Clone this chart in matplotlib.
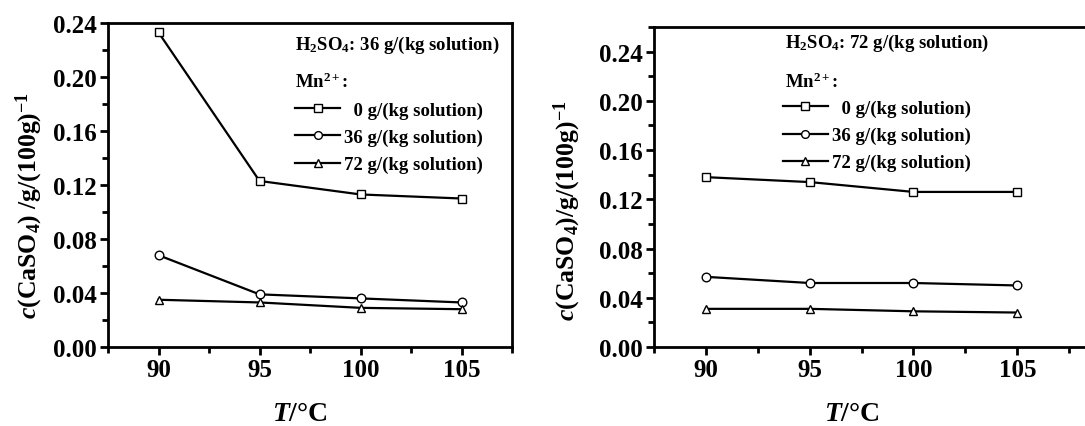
import matplotlib
matplotlib.use("Agg")
import matplotlib.pyplot as plt
from matplotlib.ticker import MultipleLocator, FormatStrFormatter

# ---- data ----
temps = [90, 95, 100, 105]
mn_labels = ["  0 g/(kg solution)", "36 g/(kg solution)", "72 g/(kg solution)"]
markers = ["s", "o", "^"]

# H2SO4 36 g/(kg solution)
left_mn0 = [0.233, 0.123, 0.113, 0.110]
left_mn36 = [0.068, 0.039, 0.036, 0.033]
left_mn72 = [0.035, 0.033, 0.029, 0.028]

# H2SO4 72 g/(kg solution)
right_mn0 = [0.138, 0.134, 0.126, 0.126]
right_mn36 = [0.057, 0.052, 0.052, 0.050]
right_mn72 = [0.031, 0.031, 0.029, 0.028]

xticks = [90, 95, 100, 105]
yticks = [0.00, 0.04, 0.08, 0.12, 0.16, 0.20, 0.24]

plt.rcParams["font.family"] = ["Liberation Serif", "DejaVu Serif"]
plt.rcParams["font.weight"] = "bold"
plt.rcParams["mathtext.fontset"] = "custom"
plt.rcParams["mathtext.rm"] = "Liberation Serif:bold"
plt.rcParams["mathtext.it"] = "Liberation Serif:italic:bold"
plt.rcParams["mathtext.bf"] = "Liberation Serif:bold"

W, H = 1085, 427
fig = plt.figure(figsize=(W / 100, H / 100), dpi=100)


def px_axes(x0, x1, y0, y1):
    return fig.add_axes([x0 / W, 1 - y1 / H, (x1 - x0) / W, (y1 - y0) / H])


def style(ax, ylim, xlim):
    ax.set_xlim(*xlim)
    ax.set_ylim(*ylim)
    ax.set_xticks(xticks)
    ax.set_yticks(yticks)
    ax.xaxis.set_minor_locator(MultipleLocator(2.5))
    ax.yaxis.set_minor_locator(MultipleLocator(0.02))
    ax.yaxis.set_major_formatter(FormatStrFormatter("%.2f"))
    for s in ax.spines.values():
        s.set_linewidth(2.0)
    ax.tick_params(which="major", direction="out", length=6, width=2,
                   labelsize=18, pad=2, top=False, right=False)
    ax.tick_params(which="minor", direction="out", length=4, width=2,
                   top=False, right=False)
    for lab in ax.get_xticklabels() + ax.get_yticklabels():
        lab.set_fontweight("bold")


def draw(ax, series, header, hx, hy, my, lx, ly):
    handles = []
    for vals, m in zip(series, markers):
        h, = ax.plot(temps, vals, color="black", lw=1.6, marker=m,
                     markersize=6.2, markerfacecolor="white",
                     markeredgecolor="black", markeredgewidth=1.0,
                     clip_on=False, zorder=3)
        handles.append(h)
    ax.text(hx, hy, header, transform=ax.transAxes, fontsize=13.5,
            fontweight="bold", ha="left", va="center")
    ax.text(hx, my, "Mn$^{2+}$:", transform=ax.transAxes, fontsize=13.5,
            fontweight="bold", ha="left", va="center")
    leg = ax.legend(handles, mn_labels, loc="upper left",
                    bbox_to_anchor=(lx, ly), frameon=False,
                    prop={"family": "Liberation Serif", "weight": "bold", "size": 13.5},
                    handlelength=2.4, handletextpad=0.2, labelspacing=0.53,
                    borderpad=0, borderaxespad=0, markerscale=0.9)
    return leg


# Left panel
ax1 = px_axes(108, 512, 24, 348)
style(ax1, (0, 0.24), (87.5, 107.5))
draw(ax1, [left_mn0, left_mn36, left_mn72],
     "H$_2$SO$_4$: 36 g/(kg solution)", 0.463, 0.935, 0.821, 0.463, 0.758)
ax1.set_ylabel("$c$(CaSO$_4$) /g/(100g)$^{-1}$", fontsize=18.5, fontweight="bold")
ax1.yaxis.set_label_coords(-0.155, 0.44)
ax1.set_xlabel("$T$/°C", fontsize=20, fontweight="bold")
ax1.xaxis.set_label_coords(0.475, -0.168)

# Right panel (right edge runs past the image border)
ax2 = px_axes(654, 1092, 28, 348)
style(ax2, (0, 0.26), (87.5, 108.6))
draw(ax2, [right_mn0, right_mn36, right_mn72],
     "H$_2$SO$_4$: 72 g/(kg solution)", 0.299, 0.953, 0.831, 0.2945, 0.773)
ax2.set_ylabel("$c$(CaSO$_4$)/g/(100g)$^{-1}$", fontsize=18.5, fontweight="bold")
ax2.yaxis.set_label_coords(-0.162, 0.428)
ax2.set_xlabel("$T$/°C", fontsize=20, fontweight="bold")
ax2.xaxis.set_label_coords(0.452, -0.168)

fig.savefig("out.png", dpi=100)
